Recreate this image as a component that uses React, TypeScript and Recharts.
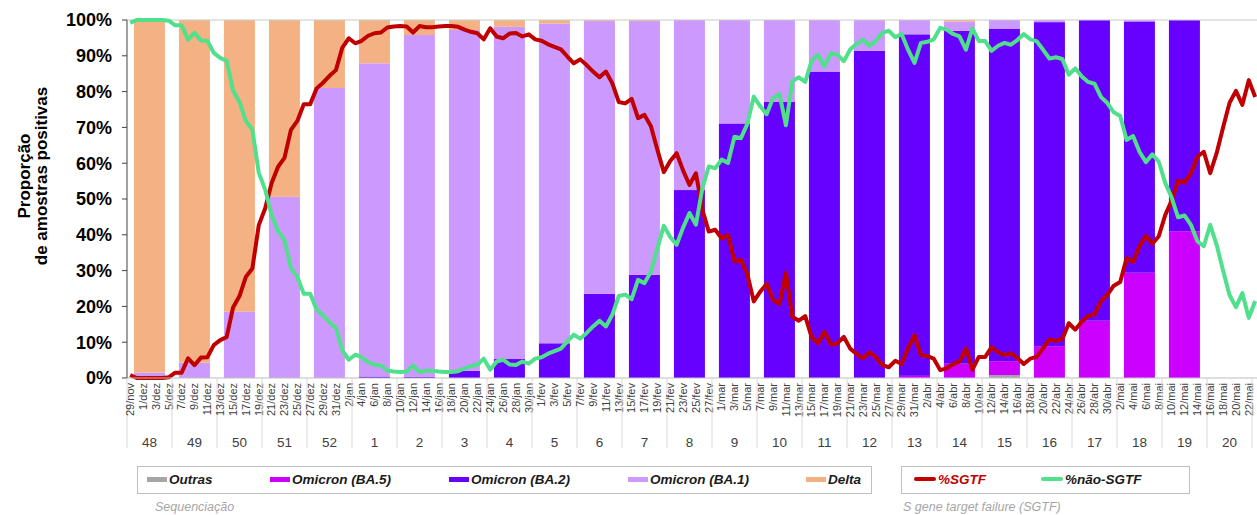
import React from 'react';
import { ComposedChart, Bar, Line, XAxis, YAxis, ReferenceLine } from 'recharts';

// semanas epidemiológicas (48/2021 a 20/2022)
const weeks = ['48', '49', '50', '51', '52', '1', '2', '3', '4', '5', '6', '7', '8', '9', '10', '11', '12', '13', '14', '15', '16', '17', '18', '19', '20'];

// sequenciação, % por semana
const outras = [0, 0, 0, 0, 0, 0, 0, 0, 0, 0, 0, 0, 0, 0, 0, 0, 0, 0, 0, 0.8, 0, 0, 0, 0, 0];
const ba5 = [0, 0, 0, 0, 0, 0, 0, 0, 0, 0, 0, 0, 0, 0, 0, 0, 0, 0.6, 4.0, 3.9, 8.9, 16, 29.4, 41, 0];
const ba2 = [0, 0, 0, 0, 0, 0.4, 0.3, 2.0, 5.3, 9.7, 23.5, 28.8, 52.5, 71.1, 77.2, 85.6, 91.4, 95.4, 93.0, 92.9, 90.5, 84, 70.2, 59, 0];
const ba1 = [1.5, 4.3, 18.5, 50.6, 81, 87.5, 95.5, 95.2, 92.8, 89.3, 76.2, 70.9, 47.5, 28.9, 22.8, 14.4, 8.6, 4.0, 2.5, 2.4, 0.6, 0, 0.4, 0, 0];
const delta = [98.5, 95.7, 81.5, 49.4, 19, 12.1, 4.2, 2.8, 1.9, 1.0, 0.3, 0.3, 0, 0, 0, 0, 0, 0, 0.5, 0, 0, 0, 0, 0, 0];

// SGTF diário (29/nov a 23/mai)
const sgtf = [
  0.8, 0, 0, 0, 0, 0, 0.2, 1.5, 1.5, 5.5,
  3.6, 5.7, 5.8, 9.2, 10.6, 11.4, 19.7, 22.9, 28.3, 30.6,
  42.7, 47.4, 54.5, 59, 61.5, 69.3, 71.8, 76.5, 76.5, 80.9,
  82.5, 84.4, 86, 92.3, 94.9, 93.5, 94.2, 95.6, 96.3, 96.5,
  97.9, 98.2, 98.3, 98.2, 96.5, 98.3, 98, 98, 98.2, 98.3,
  98.3, 98.1, 97.3, 96.7, 96.3, 94.6, 97.7, 95.4, 94.9, 96.2,
  96.4, 95.4, 96, 94.6, 94.2, 93.2, 92.5, 91.8, 89.8, 87.9,
  89, 87.4, 85.6, 84, 85.6, 82.3, 77.1, 76.7, 78, 72.6,
  73.5, 70.3, 63.8, 57.5, 60.6, 62.8, 58, 53.9, 57.2, 47,
  40.9, 41.4, 39, 39.9, 32.6, 33, 29, 21.4, 24.1, 26.3,
  21.8, 20.7, 29.4, 17.1, 16, 17.3, 11.4, 9.7, 12.9, 9.3,
  9.7, 11.5, 8.2, 6.7, 5.5, 7.2, 5.8, 3.6, 3, 4.8,
  3.9, 8.3, 12, 6.4, 6.1, 5.4, 2.2, 2.7, 3.9, 4.6,
  8.3, 2.3, 5.9, 5.9, 8.6, 7.2, 6.4, 6.9, 5.6, 3.9,
  5.4, 5.9, 8.3, 10.8, 10.4, 10.9, 15.3, 13.5, 15.7, 17.3,
  17.8, 21.5, 23.2, 25.8, 26.8, 33.5, 32.4, 36.8, 39.7, 37.5,
  39.6, 45.5, 49.6, 55.1, 54.6, 57.2, 61.8, 63.2, 57.2, 62.8,
  70, 76.8, 80.2, 76.3, 83.2, 78.5,
];

const naoSgtf = [
  99.2, 100, 100, 100, 100, 100, 99.8, 98.5, 98.5, 94.5,
  96.4, 94.3, 94.2, 90.8, 89.4, 88.6, 80.3, 77.1, 71.7, 69.4,
  57.3, 52.6, 45.5, 41, 38.5, 30.7, 28.2, 23.5, 23.5, 19.1,
  17.5, 15.6, 14, 7.7, 5.1, 6.5, 5.8, 4.4, 3.7, 3.5,
  2.1, 1.8, 1.7, 1.8, 3.5, 1.7, 2, 2, 1.8, 1.7,
  1.7, 1.9, 2.7, 3.3, 3.7, 5.4, 2.3, 4.6, 5.1, 3.8,
  3.6, 4.6, 4, 5.4, 5.8, 6.8, 7.5, 8.2, 10.2, 12.1,
  11, 12.6, 14.4, 16, 14.4, 17.7, 22.9, 23.3, 22, 27.4,
  26.5, 29.7, 36.2, 42.5, 39.4, 37.2, 42, 46.1, 42.8, 53,
  59.1, 58.6, 61, 60.1, 67.4, 67, 71, 78.6, 75.9, 73.7,
  78.2, 79.3, 70.6, 82.9, 84, 82.7, 88.6, 90.3, 87.1, 90.7,
  90.3, 88.5, 91.8, 93.3, 94.5, 92.8, 94.2, 96.4, 97, 95.2,
  96.1, 91.7, 88, 93.6, 93.9, 94.6, 97.8, 97.3, 96.1, 95.4,
  91.7, 97.7, 94.1, 94.1, 91.4, 92.8, 93.6, 93.1, 94.4, 96.1,
  94.6, 94.1, 91.7, 89.2, 89.6, 89.1, 84.7, 86.5, 84.3, 82.7,
  82.2, 78.5, 76.8, 74.2, 73.2, 66.5, 67.6, 63.2, 60.3, 62.5,
  60.4, 54.5, 50.4, 44.9, 45.4, 42.8, 38.2, 36.8, 42.8, 37.2,
  30, 23.2, 19.8, 23.7, 16.8, 21.5,
];

// rótulos dos dias
const months: [string, number][] = [['nov', 30], ['dez', 31], ['jan', 31], ['fev', 28], ['mar', 31], ['abr', 30], ['mai', 31]];
const dayLabels: string[] = [];
{
  let m = 0;
  let d = 29;
  while (dayLabels.length < sgtf.length) {
    dayLabels.push(`${d}/${months[m][0]}`);
    d++;
    if (d > months[m][1]) { d = 1; m++; }
  }
}

const data = dayLabels.map((label, i) => {
  const w = Math.floor(i / 7);
  const mid = i % 7 === 3 && w < weeks.length;
  return {
    idx: i,
    label,
    sgtf: sgtf[i],
    naoSgtf: naoSgtf[i],
    outras: mid ? outras[w] : null,
    ba5: mid ? ba5[w] : null,
    ba2: mid ? ba2[w] : null,
    ba1: mid ? ba1[w] : null,
    delta: mid ? delta[w] : null,
  };
});

const LEFT = 127;
const PLOT_W = (45 / 7) * data.length;
const BW = PLOT_W / data.length;
const WEEK_BAR = 31;

// a coluna semanal fica centrada no dia do meio da semana, mas com a largura de uma semana
const WeekBar = (props: any) => {
  const { x, y, width, height, fill } = props;
  if (!height || height <= 0) return null;
  const cx = x + width / 2;
  return <rect x={cx - WEEK_BAR / 2} y={y} width={WEEK_BAR} height={height} fill={fill} />;
};

const DayTick = (props: any) => {
  const { x, y, payload } = props;
  const i = Number(payload.value);
  const w = Math.floor(i / 7);
  return (
    <g>
      {i % 7 === 0 && (
        <line x1={x - BW / 2} x2={x - BW / 2} y1={y} y2={y + 70} stroke="#D9D9D9" />
      )}
      {i % 2 === 0 && (
        <text
          x={x}
          y={y + 5}
          transform={`rotate(-90, ${x}, ${y + 5})`}
          textAnchor="end"
          dy="0.35em"
          fontSize={11}
          fill="#404040"
        >
          {dayLabels[i]}
        </text>
      )}
      {i % 7 === 3 && weeks[w] && (
        <text x={x} y={y + 69} textAnchor="middle" fontSize={13.5} fill="#404040">
          {weeks[w]}
        </text>
      )}
    </g>
  );
};

const YTitle = () => (
  <g fontSize={17} fontWeight={700} fill="#000">
    <text transform="translate(30,176) rotate(-90)" textAnchor="middle">Proporção</text>
    <text transform="translate(47,176) rotate(-90)" textAnchor="middle">de amostras positivas</text>
  </g>
);

const barItems = [
  { name: 'Outras', color: '#A6A6A6' },
  { name: 'Omicron (BA.5)', color: '#CC00FF' },
  { name: 'Omicron (BA.2)', color: '#6600FF' },
  { name: 'Omicron (BA.1)', color: '#CC99FF' },
  { name: 'Delta', color: '#F4B183' },
];
const barItemX = [147, 270, 449, 628, 806];

const labelStyle: React.CSSProperties = {
  position: 'absolute',
  top: 471,
  fontSize: 13.5,
  fontWeight: 700,
  fontStyle: 'italic',
  lineHeight: '17px',
  whiteSpace: 'nowrap',
};

export default function App() {
  return (
    <div
      style={{
        position: 'absolute',
        left: 0,
        top: 0,
        width: 1257,
        height: 515,
        overflow: 'hidden',
        background: '#fff',
        fontFamily: '"Liberation Sans", Arial, sans-serif',
      }}
    >
      <ComposedChart
        width={LEFT + PLOT_W}
        height={458}
        data={data}
        margin={{ top: 20, right: 0, bottom: 0, left: 0 }}
        barGap={0}
      >
        <XAxis
          dataKey="idx"
          type="category"
          interval={0}
          height={80}
          tickLine={false}
          tickSize={0}
          tickMargin={0}
          axisLine={{ stroke: '#BFBFBF' }}
          tick={<DayTick />}
        />
        <YAxis
          width={LEFT}
          domain={[0, 100]}
          ticks={[0, 10, 20, 30, 40, 50, 60, 70, 80, 90, 100]}
          tickFormatter={(v) => `${v}%`}
          tickSize={5}
          tickMargin={10}
          axisLine={{ stroke: '#404040' }}
          tickLine={{ stroke: '#404040' }}
          tick={{ fontSize: 18, fontWeight: 700, fill: '#000' }}
          label={{ content: () => <YTitle /> }}
        />
        <Bar dataKey="outras" stackId="s" fill="#A6A6A6" shape={<WeekBar />} isAnimationActive={false} />
        <Bar dataKey="ba5" stackId="s" fill="#CC00FF" shape={<WeekBar />} isAnimationActive={false} />
        <Bar dataKey="ba2" stackId="s" fill="#6600FF" shape={<WeekBar />} isAnimationActive={false} />
        <Bar dataKey="ba1" stackId="s" fill="#CC99FF" shape={<WeekBar />} isAnimationActive={false} />
        <Bar dataKey="delta" stackId="s" fill="#F4B183" shape={<WeekBar />} isAnimationActive={false} />
        <ReferenceLine y={100} stroke="#C8C8C8" />
        <Line
          type="linear"
          dataKey="sgtf"
          stroke="#C00000"
          strokeWidth={4}
          strokeLinejoin="round"
          dot={false}
          isAnimationActive={false}
        />
        <Line
          type="linear"
          dataKey="naoSgtf"
          stroke="#50E08C"
          strokeWidth={4}
          strokeLinejoin="round"
          dot={false}
          isAnimationActive={false}
        />
      </ComposedChart>

      {/* legenda: sequenciação */}
      <div style={{ position: 'absolute', left: 137, top: 466, width: 735, height: 28, border: '1px solid #BFBFBF', boxSizing: 'border-box' }} />
      {barItems.map((it, k) => (
        <React.Fragment key={it.name}>
          <div style={{ position: 'absolute', left: barItemX[k], top: 477, width: 20, height: 5, background: it.color }} />
          <div style={{ ...labelStyle, left: barItemX[k] + 22, color: '#1A1A1A' }}>{it.name}</div>
        </React.Fragment>
      ))}
      <div style={{ position: 'absolute', left: 155, top: 500, fontSize: 12.5, fontStyle: 'italic', color: '#A6A6A6' }}>Sequenciação</div>

      {/* legenda: SGTF */}
      <div style={{ position: 'absolute', left: 901, top: 466, width: 289, height: 28, border: '1px solid #BFBFBF', boxSizing: 'border-box' }} />
      <div style={{ position: 'absolute', left: 914, top: 477, width: 22, height: 4, borderRadius: 2, background: '#C00000' }} />
      <div style={{ ...labelStyle, left: 938, color: '#C00000' }}>%SGTF</div>
      <div style={{ position: 'absolute', left: 1041, top: 477, width: 22, height: 4, borderRadius: 2, background: '#50E08C' }} />
      <div style={{ ...labelStyle, left: 1065, color: '#1A1A1A' }}>%não-SGTF</div>
      <div style={{ position: 'absolute', left: 903, top: 500, fontSize: 12.5, fontStyle: 'italic', color: '#A6A6A6' }}>S gene target failure (SGTF)</div>
    </div>
  );
}
